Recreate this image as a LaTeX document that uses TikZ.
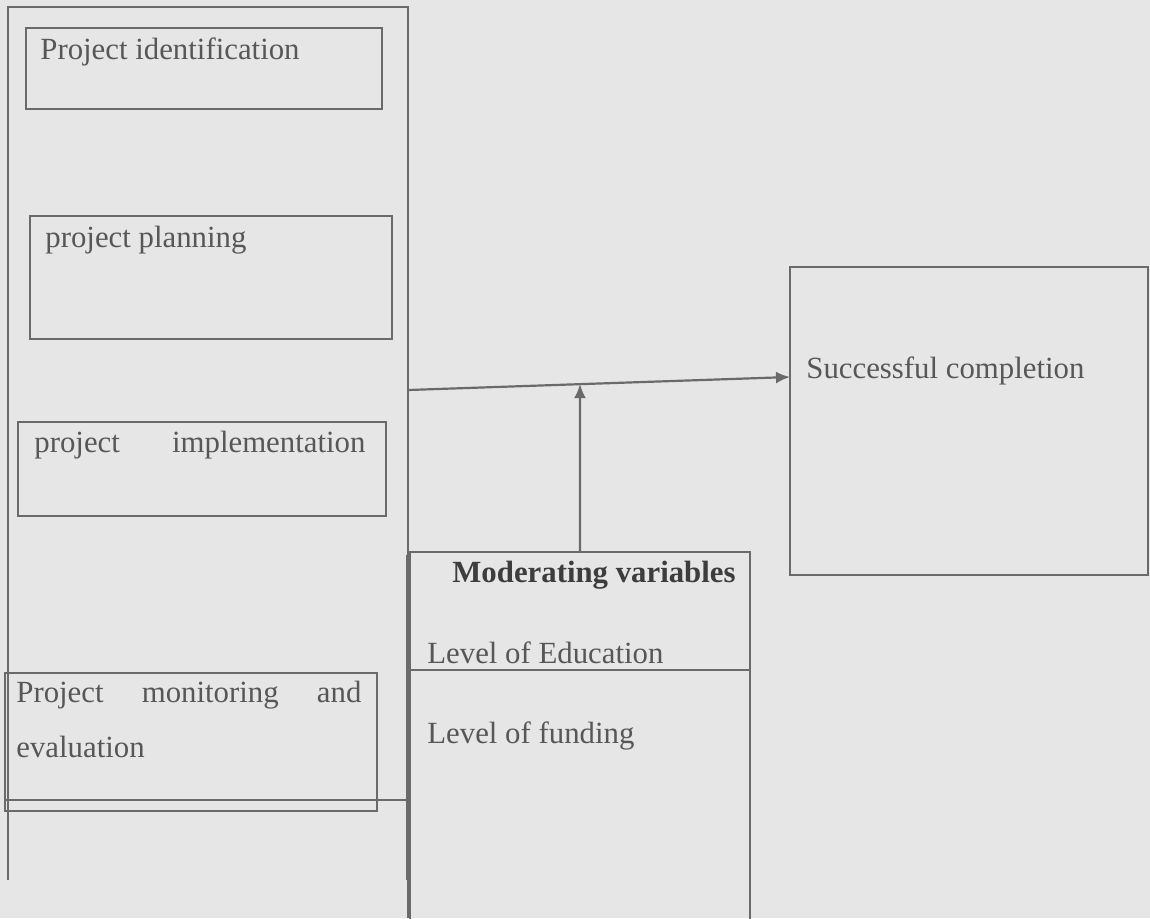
\documentclass[tikz,border=0pt]{standalone}
\usepackage{fontspec}
\setmainfont{Liberation Serif}
\usepackage{xcolor}
\usetikzlibrary{arrows.meta, fit}

\definecolor{paper}{HTML}{E6E6E6}
\definecolor{ink}{HTML}{575757}
\definecolor{rule}{HTML}{6A6A6A}

\tikzset{
    box/.style={draw=rule, line width=1pt, inner sep=0pt},
    txt/.style={inner sep=0pt, anchor=base west, text=ink, font=\fontsize{15.4}{18}\selectfont},
    arr/.style={draw=rule, line width=1.1pt, -{Latex[length=7pt,width=6pt]}},
}

\begin{document}
\begin{tikzpicture}[x=0.5pt, y=-0.5pt]
    \useasboundingbox (0,0) rectangle (1150,918);
    \clip (0,0) rectangle (1150,918);
    \fill[paper] (0,0) rectangle (1150,918);

    % outer frame of the independent variables
    \draw[rule, line width=1pt] (8,880) -- (8,7) -- (408,7) -- (408,918);
    \draw[rule, line width=2pt] (408,555) -- (408,880);

    % the four stages
    \node[box, fit={(26,28) (382,109)}] (ident) {};
    \node[box, fit={(30,216) (392,339)}] (plan) {};
    \node[box, fit={(18,422) (386,516)}] (impl) {};
    \node[box, fit={(5,673) (377,811)}] (monit) {};
    \draw[rule, line width=1pt] (5,800) -- (408,800);

    \node[txt] (identtxt) at (40,59) {Project identification};
    \node[txt] (plantxt) at (45,247) {project planning};
    \node[txt] (impltxt) at (34,452) {\makebox[165.5pt][s]{project implementation}};
    \node[txt] (monittxt) at (16,702) {\makebox[172.5pt][s]{Project monitoring and}};
    \node[txt] (evaltxt) at (16,757) {evaluation};

    % dependent variable
    \node[box, fit={(790,267) (1148,575)}] (success) {};
    \node[txt] (succtxt) at (806,378) {Successful completion};

    % moderating variables
    \node[box, fit={(410,552) (750,930)}] (moder) {};
    \coordinate (divl) at (410,670);
    \coordinate (divr) at (750,670);
    \draw[rule, line width=1pt] (divl) -- (divr);
    \node[txt, font=\fontsize{15.4}{18}\selectfont\bfseries, text=ink!70!black] (modtxt) at (452,582) {Moderating variables};
    \node[txt] (edutxt) at (427,663) {Level of Education};
    \node[txt] (fundtxt) at (427,743) {Level of funding};

    % arrows
    \coordinate (mainstart) at (408,390);
    \coordinate (mainend) at (790,377);
    \draw[arr] (mainstart) -- (mainend);
    \draw[arr] (moder.north) -- (intersection of mainstart--mainend and moder.north--moder.center);
\end{tikzpicture}
\end{document}
